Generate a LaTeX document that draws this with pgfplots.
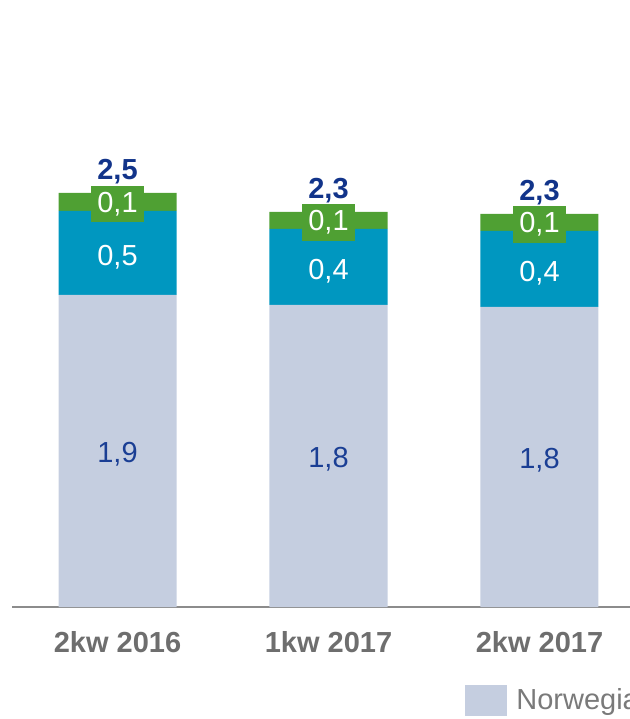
\documentclass[border=0pt]{standalone}
\usepackage{fontspec}
\setmainfont{Liberation Sans}
\usepackage{pgfplots}
\pgfplotsset{compat=1.18}
\usepackage{pgfplotstable}
\definecolor{cgray}{HTML}{C5CEE0}
\definecolor{cteal}{HTML}{0097C0}
\definecolor{cgreen}{HTML}{4FA033}
\definecolor{cnavy}{HTML}{1A3E94}
\definecolor{ctot}{HTML}{12348A}
\definecolor{ctick}{HTML}{6E6E6E}
\definecolor{caxis}{HTML}{8C8C8C}
\definecolor{cleg}{HTML}{7A7A7A}

\pgfplotstableread{
x gray teal green
0 1.884 0.507 0.109
1 1.824 0.459 0.103
2 1.812 0.459 0.103
}\bars

\pgfplotstableread{
x ygray lgray yteal lteal ygreen lgreen ytot ltot
0 0.942 1,9 2.1375 0,5 2.4455 0,1 2.500 2,5
1 0.912 1,8 2.0535 0,4 2.3345 0,1 2.386 2,3
2 0.906 1,8 2.0415 0,4 2.3225 0,1 2.374 2,3
}\labels

\newcommand{\lbl}{\fontsize{14.5}{17}\selectfont}

\pgfplotsset{
  mybase/.style={
    scale only axis, width=316.5pt, height=303.5pt,
    at={(6pt,56pt)}, anchor=south west,
    xmin=-0.5, xmax=2.5, ymin=0, ymax=3.665, clip=false,
  },
}

\begin{document}
\begin{tikzpicture}
\useasboundingbox (0,0) rectangle (315pt,359.5pt);
\clip (0,0) rectangle (315pt,359.5pt);
\begin{axis}[mybase,
  ybar stacked, bar width=59pt,
  axis x line*=bottom, axis y line=none,
  x axis line style={draw=caxis, line width=1pt, -},
  xtick={0,1,2}, xticklabels={2kw 2016,1kw 2017,2kw 2017},
  major tick length=0pt,
  xticklabel style={anchor=base, yshift=-22.5pt, font=\lbl\bfseries, text=ctick},
  ytick=\empty,
  legend style={at={(0.7156,-0.127)}, anchor=north west, draw=none, fill=none,
    inner sep=0pt, font=\lbl, text=cleg, legend cell align=left},
  legend image code/.code={\fill[#1] (0pt,-7.75pt) rectangle (21pt,7.75pt); \path (23.5pt,0pt);},
]
\addplot[fill=cgray, draw=none] table[x=x, y=gray]{\bars};
\addlegendentry{Norwegia}
\addplot[fill=cteal, draw=none, forget plot] table[x=x, y=teal]{\bars};
\addplot[fill=cgreen, draw=none, forget plot] table[x=x, y=green]{\bars};
\end{axis}
\begin{axis}[mybase, hide axis]
\addplot[draw=none, mark=none, nodes near coords, point meta=explicit symbolic,
  nodes near coords style={anchor=center, yshift=-1.5pt, font=\lbl, text=cnavy}]
  table[x=x, y=ygray, meta=lgray]{\labels};
\addplot[draw=none, mark=none, nodes near coords, point meta=explicit symbolic,
  nodes near coords style={anchor=center, yshift=-2pt, font=\lbl, text=white}]
  table[x=x, y=yteal, meta=lteal]{\labels};
\addplot[draw=none, mark=none, nodes near coords, point meta=explicit symbolic,
  nodes near coords style={anchor=center, yshift=-1pt, font=\lbl, text=white, fill=cgreen,
    inner xsep=3.3pt, inner ysep=3.2pt}]
  table[x=x, y=ygreen, meta=lgreen]{\labels};
\addplot[draw=none, mark=none, nodes near coords, point meta=explicit symbolic,
  nodes near coords style={anchor=base, yshift=6.5pt, font=\lbl\bfseries, text=ctot, inner sep=0pt}]
  table[x=x, y=ytot, meta=ltot]{\labels};
\end{axis}
\end{tikzpicture}
\end{document}
